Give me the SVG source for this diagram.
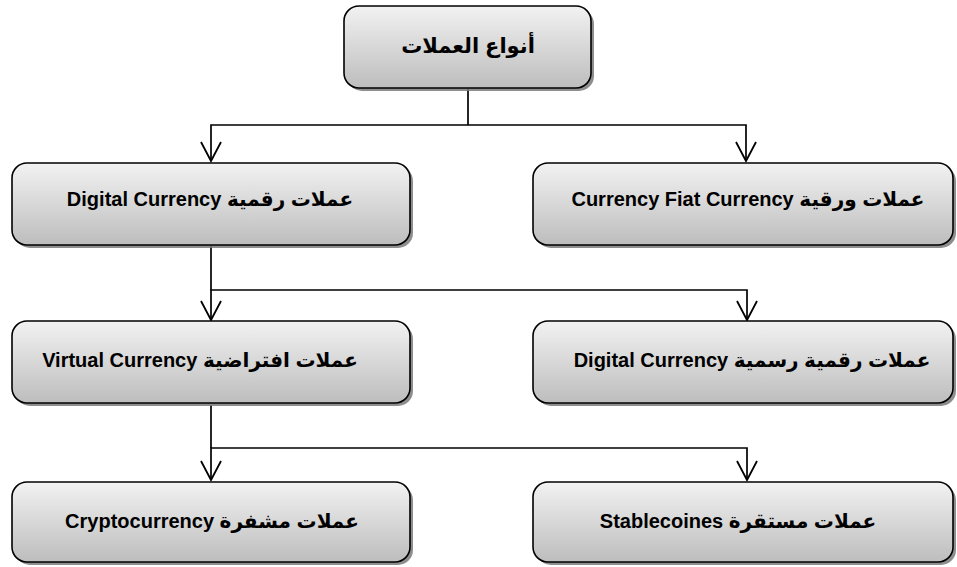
<svg xmlns="http://www.w3.org/2000/svg" width="957" height="567" viewBox="0 0 957 567">
<defs>
<linearGradient id="g" x1="0" y1="0" x2="0" y2="1">
<stop offset="0" stop-color="#f2f2f2"/>
<stop offset="1" stop-color="#bdbdbd"/>
</linearGradient>
<marker id="arr" markerWidth="22" markerHeight="24" refX="20" refY="12" orient="auto-start-reverse" markerUnits="userSpaceOnUse" viewBox="0 0 22 24">
<path d="M1,2 L20,12 L1,22" fill="none" stroke="#000" stroke-width="1.8"/>
</marker>
</defs>
<style>
.sh{fill:#7a7a7a;opacity:0.85}
.bx{fill:url(#g);stroke:#000;stroke-width:1.6}
.t{font-family:"Liberation Sans","DejaVu Sans",sans-serif;font-weight:bold;font-size:20px;fill:#000;text-anchor:middle}
.ln{fill:none;stroke:#000;stroke-width:1.7}
</style>
<g id="connectors">
<polyline class="ln" points="468,89 468,125"/>
<polyline class="ln" points="211,161 211,125 746,125 746,161" marker-start="url(#arr)" marker-end="url(#arr)"/>
<polyline class="ln" points="211,246 211,290"/>
<polyline class="ln" points="211,320 211,290 747,290 747,320" marker-start="url(#arr)" marker-end="url(#arr)"/>
<polyline class="ln" points="211,405 211,448"/>
<polyline class="ln" points="211,480 211,448 747,448 747,480" marker-start="url(#arr)" marker-end="url(#arr)"/>
</g>
<g id="n0">
<rect class="sh" x="347" y="9" width="247" height="82" rx="15"/>
<rect class="bx" x="344" y="6" width="247" height="82" rx="15"/>
<text class="t" x="468" y="53" style="font-size:21px" direction="rtl">أنواع العملات</text>
</g>
<g id="n1">
<rect class="sh" x="15" y="166" width="398" height="82" rx="15"/>
<rect class="bx" x="12" y="163" width="398" height="82" rx="15"/>
<text class="t" x="210" y="206" direction="rtl">عملات رقمية  Digital Currency</text>
</g>
<g id="n2">
<rect class="sh" x="536" y="166" width="420" height="82" rx="15"/>
<rect class="bx" x="533" y="163" width="420" height="82" rx="15"/>
<text class="t" x="748" y="206" direction="rtl">عملات ورقية  Currency Fiat Currency</text>
</g>
<g id="n3">
<rect class="sh" x="15" y="324" width="398" height="82" rx="15"/>
<rect class="bx" x="12" y="321" width="398" height="82" rx="15"/>
<text class="t" x="200" y="367" direction="rtl">عملات افتراضية  Virtual Currency</text>
</g>
<g id="n4">
<rect class="sh" x="536" y="324" width="420" height="82" rx="15"/>
<rect class="bx" x="533" y="321" width="420" height="82" rx="15"/>
<text class="t" x="752" y="367" direction="rtl">عملات رقمية رسمية  Digital Currency</text>
</g>
<g id="n5">
<rect class="sh" x="15" y="485" width="398" height="80" rx="15"/>
<rect class="bx" x="12" y="482" width="398" height="80" rx="15"/>
<text class="t" x="212" y="528" direction="rtl">عملات مشفرة  Cryptocurrency</text>
</g>
<g id="n6">
<rect class="sh" x="536" y="485" width="420" height="80" rx="15"/>
<rect class="bx" x="533" y="482" width="420" height="80" rx="15"/>
<text class="t" x="738" y="528" direction="rtl">عملات مستقرة  Stablecoines</text>
</g>
</svg>
